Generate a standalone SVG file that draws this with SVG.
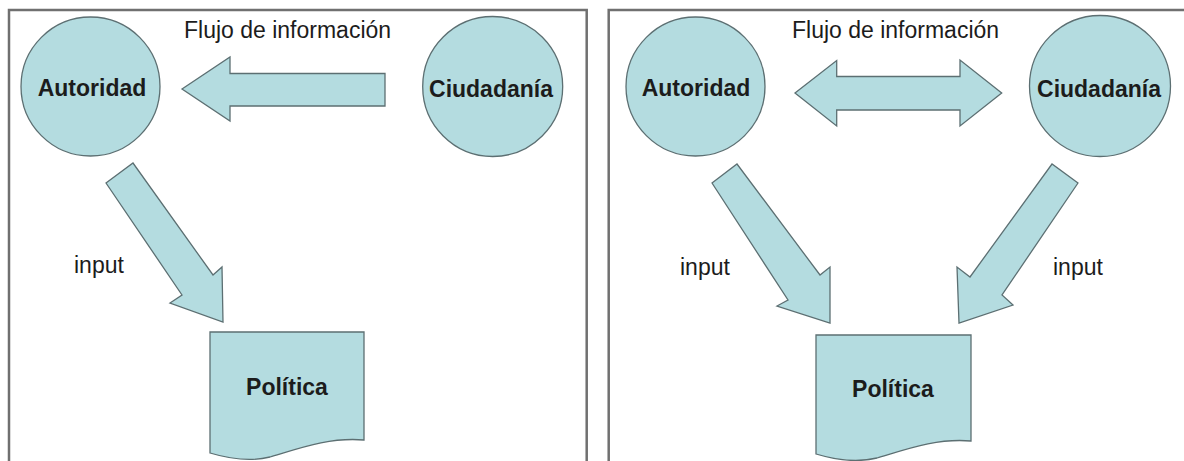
<svg xmlns="http://www.w3.org/2000/svg" width="1184" height="461" viewBox="0 0 1184 461">
  <style>
    .frame { fill: none; stroke: #707070; stroke-width: 2.5; }
    .shape { fill: #b4dce0; stroke: #5c6f72; stroke-width: 1.3; stroke-linejoin: miter; }
    .lbl { font-family: "Liberation Sans", Arial, sans-serif; font-size: 23px; fill: #1c1c1c; }
    .bold { font-weight: bold; text-anchor: middle; }
  </style>
  <rect width="1184" height="461" fill="#ffffff"/>

  <!-- Panel frames -->
  <g id="frames">
    <path class="frame" d="M9,470 V10 H586.7 V470"/>
    <path class="frame" d="M608.7,470 V10 H1190"/>
  </g>

  <!-- Left panel: one-way flow -->
  <g id="left-autoridad">
    <circle class="shape" cx="90.5" cy="86.5" r="69.5"/>
    <text class="lbl bold" x="92" y="96">Autoridad</text>
  </g>
  <g id="left-ciudadania">
    <circle class="shape" cx="492.7" cy="86.5" r="70"/>
    <text class="lbl bold" x="491" y="96.5">Ciudadanía</text>
  </g>
  <g id="left-politica">
    <path class="shape" d="M210,332 H364 V440 C330,437 300,448 270,457 C250,462 230,459 210,453 Z"/>
    <text class="lbl bold" x="287" y="395">Política</text>
  </g>
  <g id="left-labels">
    <text class="lbl" x="184" y="37.5">Flujo de información</text>
    <text class="lbl" x="74" y="273">input</text>
  </g>
  <g id="left-connectors">
    <polygon class="shape" points="182,89 230,57 230,73.5 385,73.5 385,106 230,106 230,121"/>
    <polygon class="shape" points="106,183 133,163 213,275 222,267 223,322 170,303 182,295"/>
  </g>

  <!-- Right panel: two-way flow -->
  <g id="right-autoridad">
    <circle class="shape" cx="695.5" cy="86.5" r="69.5"/>
    <text class="lbl bold" x="696" y="96">Autoridad</text>
  </g>
  <g id="right-ciudadania">
    <circle class="shape" cx="1100" cy="86" r="70.5"/>
    <text class="lbl bold" x="1099" y="96.5">Ciudadanía</text>
  </g>
  <g id="right-politica">
    <path class="shape" d="M816,335 H971 V441 C937,438 907,449 877,458 C857,463 836,460 816,454 Z"/>
    <text class="lbl bold" x="893" y="397">Política</text>
  </g>
  <g id="right-labels">
    <text class="lbl" x="792" y="37.5">Flujo de información</text>
    <text class="lbl" x="680" y="275">input</text>
    <text class="lbl" x="1053" y="275">input</text>
  </g>
  <g id="right-connectors">
    <polygon class="shape" points="795,93 836.7,60.5 836.7,76.5 960,76.5 960,60 1001.7,93 960,126 960,110 836.7,110 836.7,126"/>
    <polygon class="shape" points="712,183 737,164 820,275 830,267 830,323 777,306 788,300"/>
    <polygon class="shape" points="1078,183 1052,164 970,277 957,267 959,323 1013,305 1002,295"/>
  </g>
</svg>
